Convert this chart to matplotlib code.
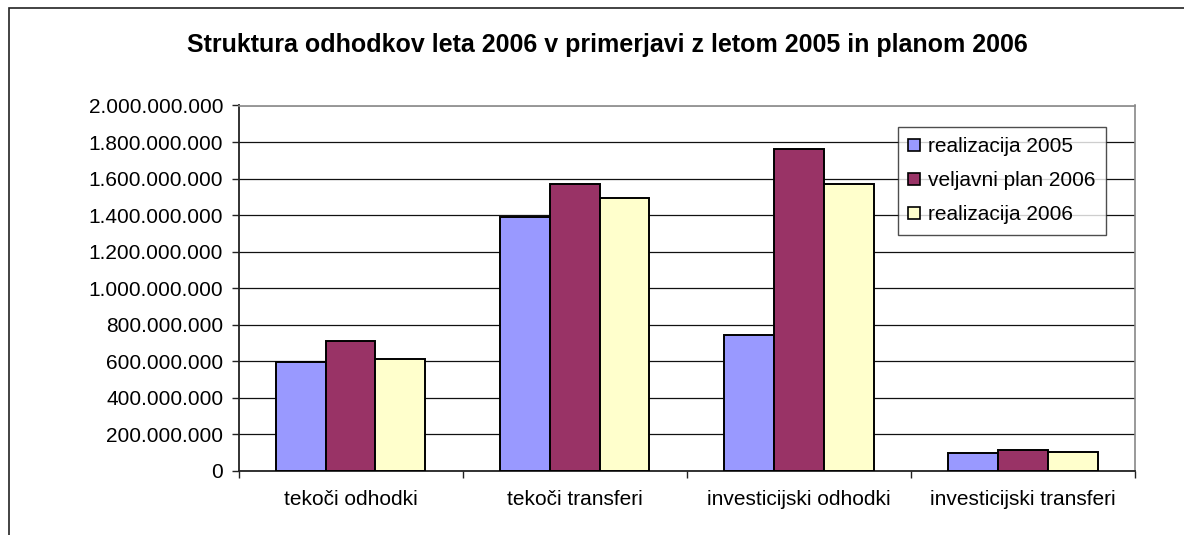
import matplotlib
matplotlib.use('Agg')
import matplotlib.pyplot as plt
import numpy as np
from matplotlib.patches import Rectangle
from matplotlib.ticker import FuncFormatter, MultipleLocator

plt.rcParams['font.family'] = ['Liberation Sans', 'DejaVu Sans']

categories = ['tekoči odhodki', 'tekoči transferi',
              'investicijski odhodki', 'investicijski transferi']
series_names = ['realizacija 2005', 'veljavni plan 2006', 'realizacija 2006']
realizacija_2005 = [594e6, 1390e6, 743e6, 97e6]
plan_2006 = [709e6, 1572e6, 1760e6, 115e6]
realizacija_2006 = [614e6, 1494e6, 1572e6, 105e6]
colors = ['#9999FF', '#993366', '#FFFFCC']

W, H = 1184, 535
fig = plt.figure(figsize=(W / 100, H / 100), dpi=100, facecolor='white')

# outer chart frame (cropped on the right and bottom)
fig.patches.append(Rectangle((9 / W, -0.1), 1.2, 1 - 8 / H + 0.1,
                             transform=fig.transFigure, fill=False,
                             edgecolor='#222222', lw=1.2))

ax = fig.add_axes([238.5 / W, 1 - 471 / H, (1135 - 238.5) / W, (471 - 105.5) / H])

x = np.arange(len(categories))
bw = 1 / 4.5
data = [realizacija_2005, plan_2006, realizacija_2006]
for i, vals in enumerate(data):
    ax.bar(x + (i - 1) * bw, vals, width=bw, color=colors[i],
           edgecolor='black', linewidth=1.4, label=series_names[i], zorder=3)

ax.set_xlim(-0.5, len(categories) - 0.5)
ax.set_ylim(0, 2e9)
ax.yaxis.set_major_locator(MultipleLocator(2e8))
ax.yaxis.set_major_formatter(FuncFormatter(lambda v, p: f'{int(v):,}'.replace(',', '.')))
ax.grid(axis='y', color='#111111', lw=0.9, zorder=0)

ax.set_xticks(x)
ax.set_xticklabels(categories)
ax.set_xticks(np.arange(len(categories) + 1) - 0.5, minor=True)
ax.tick_params(axis='x', which='major', length=0, pad=14, labelsize=15)
ax.tick_params(axis='x', which='minor', length=5, width=1, color='#222222')
ax.tick_params(axis='y', length=5, width=1, color='#222222', pad=6, labelsize=15)

for side in ['top', 'right']:
    ax.spines[side].set_color('#888888')
    ax.spines[side].set_linewidth(1.2)
for side in ['left', 'bottom']:
    ax.spines[side].set_color('#222222')
    ax.spines[side].set_linewidth(1.3)

leg = ax.legend(loc='upper left', bbox_to_anchor=((898 - 238.5) / (1135 - 238.5), (471 - 127) / (471 - 105.5)),
                frameon=True, fancybox=False, fontsize=15, handlelength=0.55,
                handleheight=0.55, handletextpad=0.4, labelspacing=0.72,
                borderpad=0.5, borderaxespad=0)
leg.get_frame().set_edgecolor('#222222')
leg.get_frame().set_linewidth(1.0)
leg.set_zorder(5)
for h in leg.legend_handles:
    h.set_linewidth(1.2)

fig.text(607 / W, 1 - 45 / H,
         'Struktura odhodkov leta 2006 v primerjavi z letom 2005 in planom 2006',
         ha='center', va='center', fontsize=18, fontweight='bold')

fig.savefig('out.png', dpi=100)
